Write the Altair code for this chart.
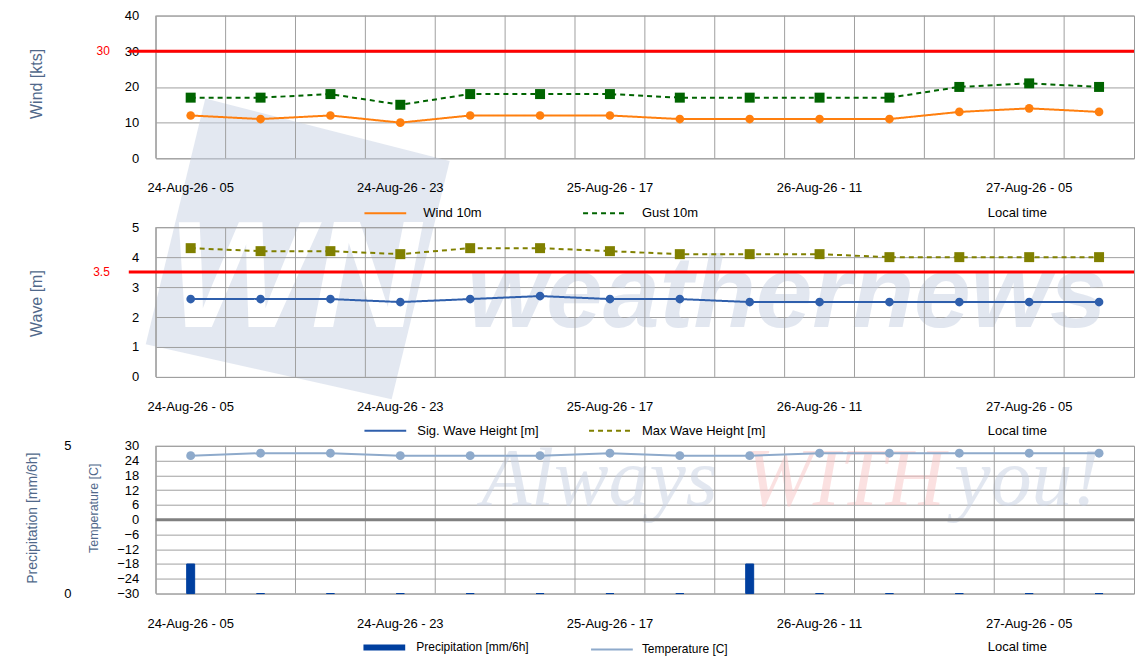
import altair as alt
import pandas as pd

# ---------------- data ----------------
times = ["24-Aug-26 - 05", "24-Aug-26 - 11", "24-Aug-26 - 17", "24-Aug-26 - 23",
         "25-Aug-26 - 05", "25-Aug-26 - 11", "25-Aug-26 - 17", "25-Aug-26 - 23",
         "26-Aug-26 - 05", "26-Aug-26 - 11", "26-Aug-26 - 17", "26-Aug-26 - 23",
         "27-Aug-26 - 05", "27-Aug-26 - 11"]
label_times = times[0::3]
wind_10m = [12, 11, 12, 10, 12, 12, 12, 11, 11, 11, 11, 13, 14, 13]
gust_10m = [17, 17, 18, 15, 18, 18, 18, 17, 17, 17, 17, 20, 21, 20]
sig_wave = [2.6, 2.6, 2.6, 2.5, 2.6, 2.7, 2.6, 2.6, 2.5, 2.5, 2.5, 2.5, 2.5, 2.5]
max_wave = [4.3, 4.2, 4.2, 4.1, 4.3, 4.3, 4.2, 4.1, 4.1, 4.1, 4.0, 4.0, 4.0, 4.0]
temperature = [26, 27, 27, 26, 26, 26, 27, 26, 26, 27, 27, 27, 27, 27]
precipitation = [1.0, 0, 0, 0, 0, 0, 0, 0, 1.0, 0, 0, 0, 0, 0]
wind_limit = 30
wave_limit = 3.5

wind_names = ["Wind 10m", "Gust 10m"]
wave_names = ["Sig. Wave Height [m]", "Max Wave Height [m]"]
met_names = ["Precipitation [mm/6h]", "Temperature [C]"]

# ---------------- style ----------------
W = 980
H1, H2, H3 = 143, 150, 148
FONT = "Liberation Sans"
TITLE_COLOR = "#50688a"
GRID = "#a0a0a0"
ORANGE = "#ff7f0e"
GREEN = "#006400"
BLUE = "#2f5fac"
OLIVE = "#808000"
LIGHTBLUE = "#8eaacb"
PRECIP = "#003f9f"
WM_BLUE = "#c7d1e3"
WM_RED = "#f9c4c4"
LOGO_PATH = "M-0.61,-1L0.99,-0.59L0.61,0.97L-1,0.61Z"

base = pd.DataFrame({"t": times})
wind_df = pd.DataFrame({"t": times * 2,
                        "series": [wind_names[0]] * len(times) + [wind_names[1]] * len(times),
                        "value": wind_10m + gust_10m})
wave_df = pd.DataFrame({"t": times * 2,
                        "series": [wave_names[0]] * len(times) + [wave_names[1]] * len(times),
                        "value": sig_wave + max_wave})
temp_df = pd.DataFrame({"t": times, "series": met_names[1], "value": temperature})
prec_df = pd.DataFrame({"t": times, "series": met_names[0], "value": precipitation})


def x_enc(label_pad=24, title_y=54, band_pos=None):
    kw = {}
    if band_pos is not None:
        kw["bandPosition"] = band_pos
    return alt.X(
        "t:N",
        scale=alt.Scale(type="band", domain=times, paddingInner=0, paddingOuter=0),
        axis=alt.Axis(values=label_times, labelAngle=0, labelPadding=label_pad,
                      labelFont=FONT, labelFontSize=13, labelColor="black",
                      title="Local time", titleX=833, titleY=title_y, titleAlign="left",
                      titleAnchor="start", titleBaseline="middle", titleFont=FONT,
                      titleFontSize=13, titleFontWeight="normal", titleColor="black",
                      grid=False, ticks=False, domain=False, zindex=1),
        **kw)


def y_axis(title, values, tx, ty, size=16, pad=17, grid=True, offset=0):
    return alt.Axis(values=values, title=title, titleX=tx, titleY=ty, titleAngle=270,
                    titleBaseline="middle", titleAlign="center", titleFont=FONT,
                    titleFontSize=size, titleFontWeight="normal", titleColor=TITLE_COLOR,
                    labelFont=FONT, labelFontSize=13, labelColor="black", labelPadding=pad,
                    grid=grid, gridColor=GRID, gridWidth=1, ticks=False, domain=False,
                    offset=offset, orient="left")


def legend(x, y, size, offset, colpad, fsize=13):
    return alt.Legend(title=None, orient="none", legendX=x, legendY=y, direction="horizontal",
                      symbolType="stroke", symbolSize=size, symbolStrokeWidth=2,
                      labelFont=FONT, labelFontSize=fsize, labelColor="black",
                      labelOffset=offset, columnPadding=colpad, labelLimit=300)


def vgrid(label_pad, title_y):
    return alt.Chart(base).mark_rule(color=GRID, strokeWidth=1).encode(
        x=x_enc(label_pad, title_y, band_pos=0))


def limit_layers(value, label, yscale, yaxis):
    d = pd.DataFrame({"v": [value]})
    rule = alt.Chart(d).mark_rule(color="#ff0000", strokeWidth=3).encode(
        y=alt.Y("v:Q", scale=yscale, axis=yaxis), x=alt.value(-27), x2=alt.value(W))
    txt = alt.Chart(d).mark_text(align="right", baseline="middle", color="#ff0000",
                                 font=FONT, fontSize=12).encode(
        y=alt.Y("v:Q", scale=yscale, axis=yaxis), x=alt.value(-46), text=alt.value(label))
    return rule, txt


def watermark(word, x, y, size, color, font=FONT, style="italic", weight="normal", opacity=0.5):
    return alt.Chart(pd.DataFrame({"w": [word]})).mark_text(
        align="left", baseline="alphabetic", font=font, fontSize=size, fontStyle=style,
        fontWeight=weight, color=color, opacity=opacity).encode(
        x=alt.value(x), y=alt.value(y), text="w:N")


# ---------------- panel 1: wind ----------------
logo = alt.Chart(pd.DataFrame({"w": ["logo"]})).mark_point(
    shape=LOGO_PATH, filled=True, size=93636, color=WM_BLUE, opacity=0.5, strokeWidth=0).encode(
    x=alt.value(143), y=alt.value(236))
logo_txt = watermark("WN", 12, 312, 152, "#ffffff", weight="bold", opacity=1)

ys1 = alt.Scale(domain=[0, 40], nice=False, zero=False)
ya1 = y_axis("Wind [kts]", [0, 10, 20, 30, 40], -119, 68)
y1 = alt.Y("value:Q", scale=ys1, axis=ya1)
leg1 = legend(208, 176, 1750, 16, 97)
c1 = alt.Color("series:N", scale=alt.Scale(domain=wind_names, range=[ORANGE, GREEN]), legend=leg1)
d1 = alt.StrokeDash("series:N", scale=alt.Scale(domain=wind_names, range=[[1, 0], [5, 4]]), legend=leg1)
lines1 = alt.Chart(wind_df).mark_line(strokeWidth=2).encode(x=x_enc(23, 54), y=y1, color=c1, strokeDash=d1)
pts_w = alt.Chart(wind_df).transform_filter(alt.datum.series == wind_names[0]).mark_circle(
    size=75, color=ORANGE, opacity=1).encode(x=x_enc(23, 54), y=y1)
pts_g = alt.Chart(wind_df).transform_filter(alt.datum.series == wind_names[1]).mark_square(
    size=100, color=GREEN, opacity=1).encode(x=x_enc(23, 54), y=y1)
r1, t1 = limit_layers(wind_limit, str(wind_limit), ys1, ya1)
panel1 = alt.layer(logo, logo_txt, vgrid(23, 54), r1, t1, lines1, pts_w, pts_g).properties(
    width=W, height=H1)

# ---------------- panel 2: wave ----------------
ys2 = alt.Scale(domain=[0, 5], nice=False, zero=False)
ya2 = y_axis("Wave [m]", [0, 1, 2, 3, 4, 5], -119, 76)
y2 = alt.Y("value:Q", scale=ys2, axis=ya2)
leg2 = legend(208, 182, 1750, 10, 46)
c2 = alt.Color("series:N", scale=alt.Scale(domain=wave_names, range=[BLUE, OLIVE]), legend=leg2)
d2 = alt.StrokeDash("series:N", scale=alt.Scale(domain=wave_names, range=[[1, 0], [5, 4]]), legend=leg2)
wm1 = watermark("weathernews", 312, 100, 102, WM_BLUE, weight="bold")
lines2 = alt.Chart(wave_df).mark_line(strokeWidth=2).encode(x=x_enc(24, 54), y=y2, color=c2, strokeDash=d2)
pts_s = alt.Chart(wave_df).transform_filter(alt.datum.series == wave_names[0]).mark_circle(
    size=75, color=BLUE, opacity=1).encode(x=x_enc(24, 54), y=y2)
pts_m = alt.Chart(wave_df).transform_filter(alt.datum.series == wave_names[1]).mark_square(
    size=100, color=OLIVE, opacity=1).encode(x=x_enc(24, 54), y=y2)
r2, t2 = limit_layers(wave_limit, str(wave_limit), ys2, ya2)
panel2 = alt.layer(wm1, vgrid(24, 54), r2, t2, lines2, pts_s, pts_m).properties(width=W, height=H2)

# ---------------- panel 3: precipitation & temperature ----------------
leg3 = legend(205, 178, 1750, 8, 58, fsize=12)
c3 = alt.Color("series:N", scale=alt.Scale(domain=met_names, range=[PRECIP, LIGHTBLUE]), legend=leg3)
sw3 = alt.StrokeWidth("series:N", scale=alt.Scale(domain=met_names, range=[6, 2]), legend=leg3)
ya3p = y_axis("Precipitation [mm/6h]", [0, 5], -43, 72, size=14, pad=5, grid=False, offset=80)
ys3p = alt.Scale(domain=[0, 5], nice=False, zero=False)
bars = alt.Chart(prec_df).mark_bar(size=8, stroke=PRECIP, strokeWidth=1).encode(
    x=x_enc(24, 53), y=alt.Y("value:Q", scale=ys3p, axis=ya3p), color=c3)

ys3t = alt.Scale(domain=[-30, 30], nice=False, zero=False)
ya3t = y_axis("Temperature [C]", list(range(-30, 31, 6)), -62, 62, size=12.5)
y3 = alt.Y("value:Q", scale=ys3t, axis=ya3t)
zero = alt.Chart(pd.DataFrame({"value": [0]})).mark_rule(color="#808080", strokeWidth=3).encode(y=y3)
tline = alt.Chart(temp_df).mark_line().encode(x=x_enc(24, 53), y=y3, color=c3, strokeWidth=sw3)
tpts = alt.Chart(temp_df).mark_circle(size=80, color=LIGHTBLUE, opacity=1).encode(x=x_enc(24, 53), y=y3)
wm_a = watermark("Always", 326, 59, 82, WM_BLUE, font="Liberation Serif")
wm_b = watermark("WITH", 590, 59, 82, WM_RED, font="Liberation Serif")
wm_c = watermark("you!", 800, 59, 82, WM_BLUE, font="Liberation Serif")
temp_layer = alt.layer(wm_a, wm_b, wm_c, vgrid(24, 53), zero, tline, tpts)
panel3 = alt.layer(bars, temp_layer).resolve_scale(y="independent").properties(width=W, height=H3)

chart = alt.vconcat(panel1, panel2, panel3, spacing=69, bounds="flush").resolve_scale(
    color="independent", strokeDash="independent", strokeWidth="independent"
).resolve_legend(
    color="independent", strokeDash="independent", strokeWidth="independent"
).properties(
    padding={"left": 17, "top": 0, "right": 0, "bottom": 0}
).configure_view(stroke="#999999", strokeWidth=1)

chart.save("out.html", embed_options={"renderer": "svg", "actions": False})
